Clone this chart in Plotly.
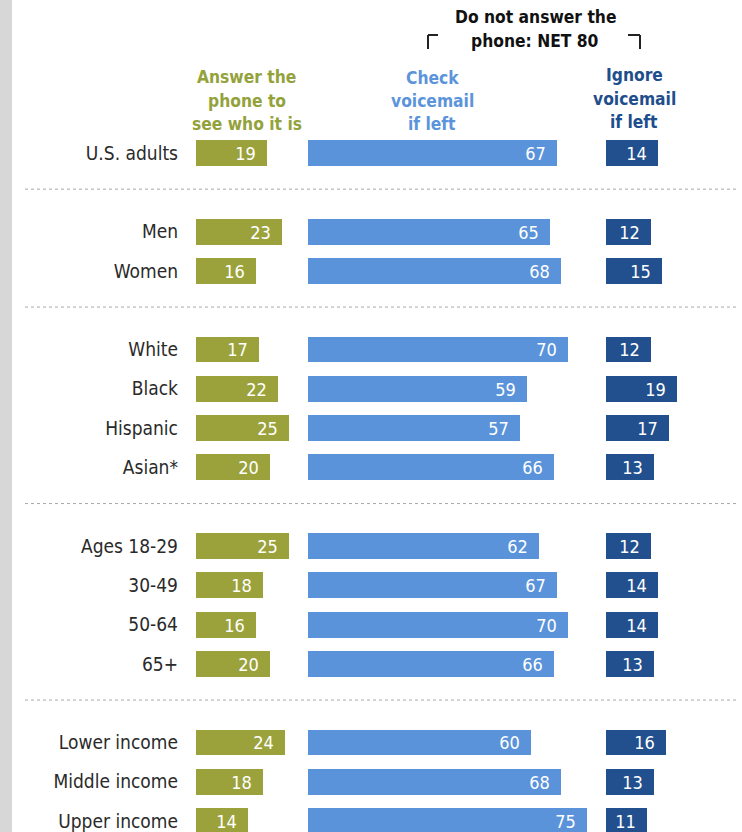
import plotly.graph_objects as go

labels = ["U.S. adults", "Men", "Women", "White", "Black", "Hispanic", "Asian*",
          "Ages 18-29", "30-49", "50-64", "65+", "Lower income", "Middle income", "Upper income"]
groups = [0, 1, 1, 2, 2, 2, 2, 3, 3, 3, 3, 4, 4, 4]
answer = [19, 23, 16, 17, 22, 25, 20, 25, 18, 16, 20, 24, 18, 14]
check = [67, 65, 68, 70, 59, 57, 66, 62, 67, 70, 66, 60, 68, 75]
ignore = [14, 12, 15, 12, 19, 17, 13, 12, 14, 14, 13, 16, 13, 11]

GREEN = "#9ba23c"
BLUE = "#5a93d9"
DARK = "#22508e"
FONT = "DejaVu Sans Condensed, DejaVu Sans, sans-serif"

W, H = 742, 832
rows = [i + g for i, g in enumerate(groups)]

fig = go.Figure()
for vals, color, xa in [(answer, GREEN, "x"), (check, BLUE, "x2"), (ignore, DARK, "x3")]:
    fig.add_trace(go.Bar(
        x=vals, y=rows, orientation="h", xaxis=xa, yaxis="y",
        marker=dict(color=color, line=dict(width=0)), width=0.66,
        text=[str(v) + "\u2002" for v in vals], textposition="inside", insidetextanchor="end",
        textangle=0, textfont=dict(color="white", size=18, family=FONT), constraintext="none",
        cliponaxis=False, hoverinfo="skip"))

scale = 3.72  # px per percentage point
def dom(start, rng):
    return [start / W, (start + rng * scale) / W]

fig.update_layout(
    width=W, height=H, margin=dict(l=0, r=0, t=0, b=0),
    paper_bgcolor="white", plot_bgcolor="white", showlegend=False,
    font=dict(family=FONT, color="#2a2a2a"),
    xaxis=dict(domain=dom(196, 29), range=[0, 29], visible=False),
    xaxis2=dict(domain=dom(308, 78), range=[0, 78], visible=False),
    xaxis3=dict(domain=dom(606, 30), range=[0, 30], visible=False),
    yaxis=dict(domain=[0, 1], range=[(H - 153) / 39.3, -153 / 39.3], anchor="x",
               tickvals=rows, ticktext=labels, ticks="", showgrid=False, zeroline=False,
               showline=False, ticklabelstandoff=17,
               tickfont=dict(size=19, family=FONT, color="#2a2a2a")),
    bargap=0,
)

shapes = [dict(type="rect", xref="paper", yref="paper", x0=0, x1=12 / W, y0=0, y1=1,
               fillcolor="#d7d7d7", line=dict(width=0), layer="below")]
for i in range(1, len(rows)):
    if groups[i] != groups[i - 1]:
        yv = (rows[i] + rows[i - 1]) / 2 - 0.08
        shapes.append(dict(type="line", xref="paper", yref="y", x0=25 / W, x1=736 / W,
                           y0=yv, y1=yv, line=dict(color="#a8a8a8", width=1, dash="dot")))
# bracket for NET
for pts in [[(428, 49), (428, 35), (438, 35)], [(628, 35), (640, 35), (640, 49)]]:
    for (xa0, ya0), (xa1, ya1) in zip(pts[:-1], pts[1:]):
        shapes.append(dict(type="line", xref="paper", yref="paper",
                           x0=xa0 / W, x1=xa1 / W, y0=1 - ya0 / H, y1=1 - ya1 / H,
                           line=dict(color="#222", width=2)))
fig.update_layout(shapes=shapes)

headers = [
    (247, [77, 101, 124], ["Answer the", "phone to", "see who it is"], "#93a23a"),
    (432, [78, 101, 124], ["Check", "voicemail", "if left"], "#5b94db"),
    (634, [75, 99, 122], ["Ignore", "voicemail", "if left"], "#1f4e8c"),
    (535, [17, 41], ["Do not answer the", "phone: NET 80"], "#111111"),
]
for x, ys, lines, c in headers:
    for y, t in zip(ys, lines):
        fig.add_annotation(xref="paper", yref="paper", x=x / W, y=1 - y / H, text="<b>" + t + "</b>",
                           showarrow=False, xanchor="center", yanchor="middle",
                           font=dict(size=17.3, color=c, family=FONT), align="center")

fig.write_html("out.html", config={"displayModeBar": False},
               post_script="document.body.style.margin='0';document.body.style.overflow='hidden';")
